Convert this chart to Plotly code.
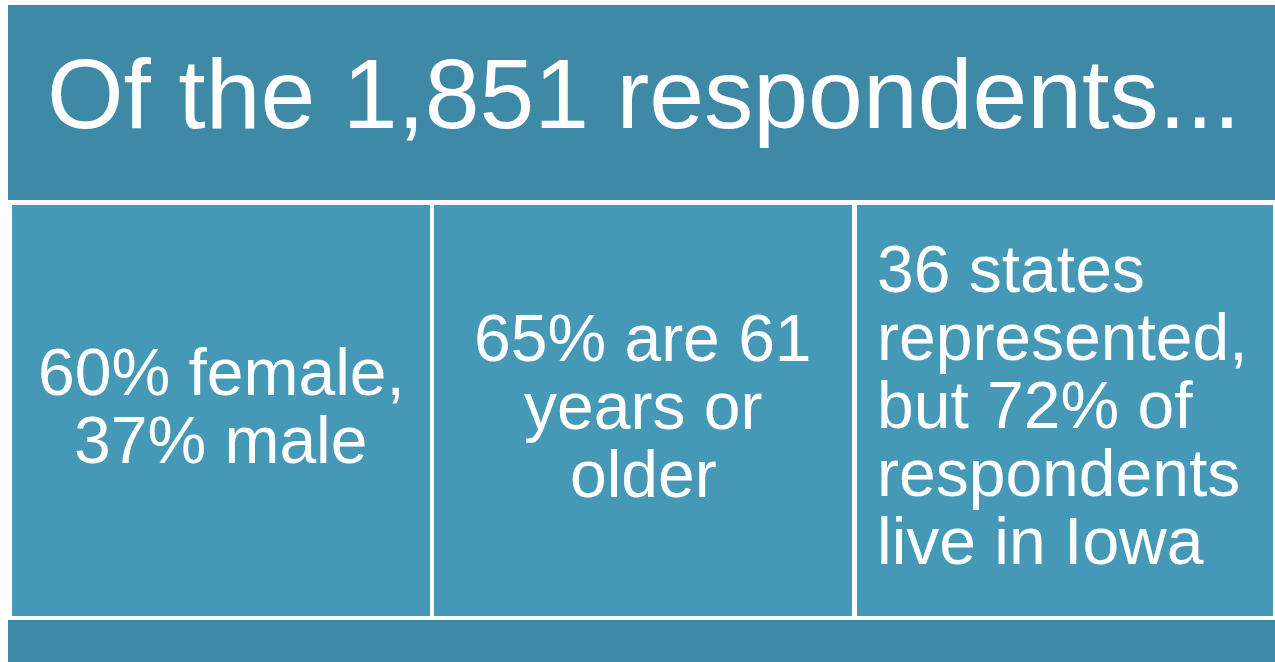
import plotly.graph_objects as go

# ---- content ----
title_text = "Of the 1,851 respondents..."
panel1_lines = ["60% female,", "37% male"]
panel2_lines = ["65% are 61", "years or", "older"]
panel3_lines = ["36 states", "represented,", "but 72% of", "respondents", "live in Iowa"]

# ---- style ----
HEADER = "#3E89A5"
PANEL = "#4599B6"
FONT = "Liberation Sans, Arial, sans-serif"
W, H = 1275, 662
FS = 66
LINE = 68

fig = go.Figure()

shapes = []
shapes.append(dict(type="rect", x0=8, x1=1275, y0=5, y1=200, fillcolor=HEADER, line_width=0, layer="below"))
panel_x = [(12, 430), (434, 852), (857, 1273)]
for x0, x1 in panel_x:
    shapes.append(dict(type="rect", x0=x0, x1=x1, y0=205, y1=616, fillcolor=PANEL, line_width=0, layer="below"))
shapes.append(dict(type="rect", x0=8, x1=1275, y0=620, y1=662, fillcolor=HEADER, line_width=0, layer="below"))

annotations = []
def add_line(text, x, baseline, size, xanchor="center"):
    annotations.append(dict(
        x=x, y=baseline - 0.375 * size, xref="x", yref="y", text=text, showarrow=False,
        xanchor=xanchor, yanchor="middle",
        font=dict(family=FONT, size=size, color="white"),
    ))

add_line(title_text, 644, 131, 98.5)

for i, t in enumerate(panel1_lines):
    add_line(t, 221, 397 + i * LINE, FS)

for i, t in enumerate(panel2_lines):
    add_line(t, 643, 363 + i * LINE, FS)

for i, t in enumerate(panel3_lines):
    add_line(t, 875, 294 + i * LINE, FS, xanchor="left")

fig.update_layout(
    width=W, height=H,
    margin=dict(l=0, r=0, t=0, b=0),
    paper_bgcolor="white", plot_bgcolor="white",
    shapes=shapes, annotations=annotations,
    xaxis=dict(range=[0, W], visible=False, fixedrange=True),
    yaxis=dict(range=[H, 0], visible=False, fixedrange=True),
    showlegend=False,
)

fig.write_html(
    "out.html",
    config={"displayModeBar": False},
    post_script="document.body.style.margin='0';document.body.style.overflow='hidden';",
)
